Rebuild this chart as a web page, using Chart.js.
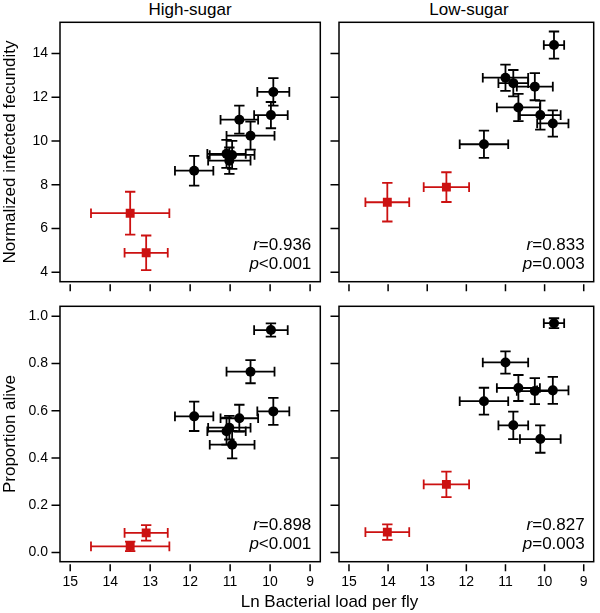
<!DOCTYPE html>
<html>
<head>
<meta charset="utf-8">
<script src="https://cdn.jsdelivr.net/npm/chart.js@4.4.1/dist/chart.umd.min.js"></script>
<style>
  body { margin: 0; background: #fff; }
  #wrap { position: relative; width: 600px; height: 613px; font-family: "Liberation Sans", Arial, Helvetica, sans-serif; color: #000; }
  #wrap canvas { position: absolute; }
  .lbl { position: absolute; font-size: 17px; line-height: 20px; text-align: center; white-space: nowrap; }
</style>
</head>
<body>
<div id="wrap">
  <div class="lbl" style="left:60px; width:260px; top:0;">High-sugar</div>
  <div class="lbl" style="left:339px; width:260px; top:0;">Low-sugar</div>
  <canvas id="fecHS" width="330" height="300" style="left:0; top:0;"></canvas>
  <canvas id="fecLS" width="270" height="300" style="left:330px; top:0;"></canvas>
  <canvas id="aliveHS" width="330" height="313" style="left:0; top:300px;"></canvas>
  <canvas id="aliveLS" width="270" height="313" style="left:330px; top:300px;"></canvas>
  <div class="lbl" style="left:60px; width:539px; top:592px;">Ln Bacterial load per fly</div>
</div>

<script>
// ---- data ----
// High-sugar: infected lines
const hsLoad     = [9.92, 9.98, 10.49, 10.77, 10.95, 11.02, 11.09, 11.9];
const hsLoadErr  = [0.40, 0.42, 0.60, 0.47, 0.56, 0.53, 0.48, 0.48];
const hsFec      = [12.24, 11.18, 10.24, 10.97, 9.36, 9.10, 9.41, 8.64];
const hsFecErr   = [0.63, 0.60, 0.64, 0.64, 0.64, 0.60, 0.64, 0.68];
const hsAlive    = [0.597, 0.941, 0.765, 0.568, 0.456, 0.528, 0.513, 0.576];
const hsAliveErr = [0.057, 0.028, 0.049, 0.057, 0.058, 0.050, 0.057, 0.062];
// High-sugar: controls (red)
const hsCtrlLoad     = [13.5, 13.1];
const hsCtrlLoadErr  = [0.98, 0.54];
const hsCtrlFec      = [6.70, 4.89];
const hsCtrlFecErr   = [0.98, 0.79];
const hsCtrlAlive    = [0.026, 0.083];
const hsCtrlAliveErr = [0.020, 0.033];

// Low-sugar: infected lines
const lsLoad     = [9.76, 11.0, 10.8, 10.25, 10.67, 10.11, 9.79, 11.55];
const lsLoadErr  = [0.26, 0.58, 0.38, 0.46, 0.55, 0.52, 0.40, 0.62];
const lsFec      = [14.38, 12.89, 12.64, 12.48, 11.53, 11.18, 10.80, 9.85];
const lsFecErr   = [0.62, 0.60, 0.60, 0.62, 0.62, 0.66, 0.60, 0.62];
const lsAlive    = [0.970, 0.804, 0.538, 0.683, 0.696, 0.480, 0.686, 0.640];
const lsAliveErr = [0.021, 0.047, 0.058, 0.055, 0.055, 0.058, 0.057, 0.057];
// Low-sugar: controls (red)
const lsCtrlLoad     = [14.02, 12.51];
const lsCtrlLoadErr  = [0.56, 0.58];
const lsCtrlFec      = [7.20, 7.89];
const lsCtrlFecErr   = [0.88, 0.68];
const lsCtrlAlive    = [0.086, 0.288];
const lsCtrlAliveErr = [0.033, 0.054];

// stats text per panel
const statsText = {
  fecHS:   ['0.936', '<0.001'],
  fecLS:   ['0.833', '=0.003'],
  aliveHS: ['0.898', '<0.001'],
  aliveLS: ['0.827', '=0.003']
};

const xTicks = [9, 10, 11, 12, 13, 14, 15];
const RED = '#cc1111';
const FONT = '"Liberation Sans", Arial, Helvetica, sans-serif';

// error bars, box, R-style ticks and r/p text
const panelPlugin = {
  id: 'panel',
  beforeDatasetsDraw(chart) {
    const ctx = chart.ctx;
    const xs = chart.scales.x, ys = chart.scales.y;
    chart.data.datasets.forEach(ds => {
      ctx.save();
      ctx.strokeStyle = ds.barColor;
      ctx.lineWidth = 1.8;
      ds.data.forEach((pt, i) => {
        const px = xs.getPixelForValue(pt.x), py = ys.getPixelForValue(pt.y);
        const x1 = xs.getPixelForValue(pt.x - ds.xErr[i]), x2 = xs.getPixelForValue(pt.x + ds.xErr[i]);
        const y1 = ys.getPixelForValue(pt.y - ds.yErr[i]), y2 = ys.getPixelForValue(pt.y + ds.yErr[i]);
        ctx.beginPath();
        ctx.moveTo(x1, py); ctx.lineTo(x2, py);
        ctx.moveTo(x1, py - 4.8); ctx.lineTo(x1, py + 4.8);
        ctx.moveTo(x2, py - 4.8); ctx.lineTo(x2, py + 4.8);
        ctx.moveTo(px, y1); ctx.lineTo(px, y2);
        ctx.moveTo(px - 5.2, y1); ctx.lineTo(px + 5.2, y1);
        ctx.moveTo(px - 5.2, y2); ctx.lineTo(px + 5.2, y2);
        ctx.stroke();
      });
      ctx.restore();
    });
  },
  afterDraw(chart) {
    const ctx = chart.ctx;
    const a = chart.chartArea;
    const xs = chart.scales.x, ys = chart.scales.y;
    ctx.save();
    ctx.strokeStyle = '#000';
    ctx.lineWidth = 1.5;
    ctx.strokeRect(a.left, a.top, a.right - a.left, a.bottom - a.top);
    ctx.beginPath();
    xs.ticks.forEach(t => {
      const px = xs.getPixelForValue(t.value);
      ctx.moveTo(px, a.bottom + 2.5); ctx.lineTo(px, a.bottom + 9.5);
    });
    ys.ticks.forEach(t => {
      const py = ys.getPixelForValue(t.value);
      ctx.moveTo(a.left - 8.5, py); ctx.lineTo(a.left, py);
    });
    ctx.stroke();

    // r / p labels
    const st = statsText[chart.canvas.id];
    const right = a.right - 9;
    ctx.fillStyle = '#000';
    ctx.textAlign = 'right';
    ctx.textBaseline = 'middle';
    [['r', '=' + st[0], a.bottom - 36], ['p', st[1], a.bottom - 17]].forEach(([sym, rest, y]) => {
      ctx.font = '17px ' + FONT;
      ctx.fillText(rest, right, y);
      const w = ctx.measureText(rest).width;
      ctx.font = 'italic 17px ' + FONT;
      ctx.fillText(sym, right - w, y);
    });
    ctx.restore();
  }
};

function pts(xv, yv) {
  return xv.map((x, i) => ({ x: x, y: yv[i] }));
}

// keep the plot box exactly where the figure has it
function noPad(s) {
  s.paddingTop = 0; s.paddingBottom = 0; s.paddingLeft = 0; s.paddingRight = 0;
}

function makePanel(id, p) {
  new Chart(document.getElementById(id), {
    type: 'scatter',
    data: {
      datasets: [
        {
          data: pts(p.x, p.y), xErr: p.xErr, yErr: p.yErr, barColor: '#000',
          pointStyle: 'circle', pointRadius: 5, backgroundColor: '#000', borderWidth: 0
        },
        {
          data: pts(p.cx, p.cy), xErr: p.cxErr, yErr: p.cyErr, barColor: RED,
          pointStyle: 'rect', pointRadius: 6.3, backgroundColor: RED, borderWidth: 0
        }
      ]
    },
    options: {
      responsive: false,
      animation: false,
      devicePixelRatio: 1,
      layout: { padding: { left: 0, right: p.padR, top: p.padT, bottom: 0 } },
      plugins: { legend: { display: false }, tooltip: { enabled: false } },
      scales: {
        x: {
          type: 'linear', reverse: true, min: 8.745, max: 15.255,
          afterBuildTicks: s => { s.ticks = xTicks.map(v => ({ value: v })); },
          afterFit: s => { s.height = p.xH; noPad(s); },
          grid: { display: false, drawTicks: false },
          border: { display: false },
          ticks: { display: p.showX, maxRotation: 0, padding: 12, color: '#000', font: { family: FONT, size: 14 } }
        },
        y: {
          type: 'linear', min: p.ymin, max: p.ymax,
          afterBuildTicks: s => { s.ticks = p.yTicks.map(v => ({ value: v })); },
          afterFit: s => { s.width = p.yW; noPad(s); },
          grid: { display: false, drawTicks: false },
          border: { display: false },
          title: {
            display: !!p.yTitle, text: p.yTitle || '', color: '#000',
            font: { family: FONT, size: 17 }, padding: { top: 0, bottom: 0 }
          },
          ticks: {
            display: p.showY, padding: 12, color: '#000', font: { family: FONT, size: 14 },
            callback: v => p.fmt(v)
          }
        }
      }
    },
    plugins: [panelPlugin]
  });
}

const fecTicks = [4, 6, 8, 10, 12, 14];
const aliveTicks = [0, 0.2, 0.4, 0.6, 0.8, 1.0];

makePanel('fecHS', {
  x: hsLoad, xErr: hsLoadErr, y: hsFec, yErr: hsFecErr,
  cx: hsCtrlLoad, cxErr: hsCtrlLoadErr, cy: hsCtrlFec, cyErr: hsCtrlFecErr,
  ymin: 3.57, ymax: 15.42, yTicks: fecTicks, fmt: v => String(v),
  padR: 9.7, padT: 22.3, xH: 18.3, yW: 60, showX: false, showY: true,
  yTitle: 'Normalized infected fecundity'
});
makePanel('fecLS', {
  x: lsLoad, xErr: lsLoadErr, y: lsFec, yErr: lsFecErr,
  cx: lsCtrlLoad, cxErr: lsCtrlLoadErr, cy: lsCtrlFec, cyErr: lsCtrlFecErr,
  ymin: 3.57, ymax: 15.42, yTicks: fecTicks, fmt: v => String(v),
  padR: 1.3, padT: 22.3, xH: 18.3, yW: 9, showX: false, showY: false
});
makePanel('aliveHS', {
  x: hsLoad, xErr: hsLoadErr, y: hsAlive, yErr: hsAliveErr,
  cx: hsCtrlLoad, cxErr: hsCtrlLoadErr, cy: hsCtrlAlive, cyErr: hsCtrlAliveErr,
  ymin: -0.039, ymax: 1.0416, yTicks: aliveTicks, fmt: v => v.toFixed(1),
  padR: 9.7, padT: 1.7, xH: 51.3, yW: 60, showX: true, showY: true,
  yTitle: 'Proportion alive'
});
makePanel('aliveLS', {
  x: lsLoad, xErr: lsLoadErr, y: lsAlive, yErr: lsAliveErr,
  cx: lsCtrlLoad, cxErr: lsCtrlLoadErr, cy: lsCtrlAlive, cyErr: lsCtrlAliveErr,
  ymin: -0.039, ymax: 1.0416, yTicks: aliveTicks, fmt: v => v.toFixed(1),
  padR: 1.3, padT: 1.7, xH: 51.3, yW: 9, showX: true, showY: false
});
</script>
</body>
</html>
